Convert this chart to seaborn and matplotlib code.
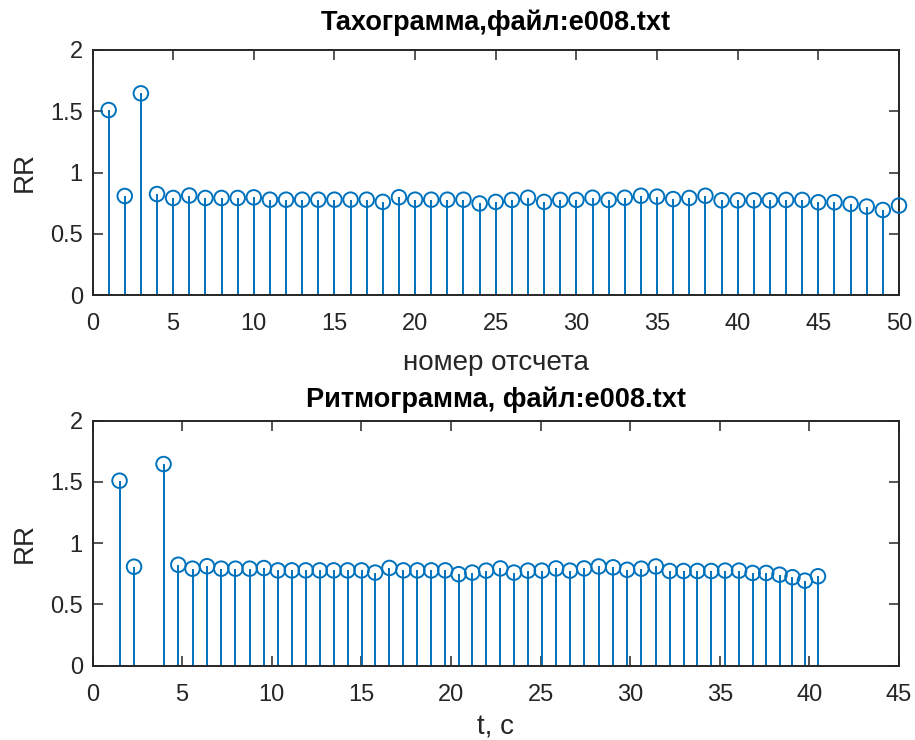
import numpy as np
import pandas as pd
import matplotlib
matplotlib.use("Agg")
import matplotlib.pyplot as plt
import seaborn as sns

# ---- data ----
sample_index = list(range(1, 51))
rr_values = [1.510, 0.808, 1.646, 0.824, 0.792, 0.812, 0.792, 0.792, 0.792, 0.797,
             0.778, 0.778, 0.778, 0.778, 0.778, 0.778, 0.778, 0.760, 0.798, 0.778,
             0.778, 0.778, 0.778, 0.747, 0.760, 0.776, 0.794, 0.760, 0.776, 0.776,
             0.794, 0.776, 0.794, 0.810, 0.803, 0.783, 0.792, 0.810, 0.773, 0.773,
             0.773, 0.773, 0.776, 0.776, 0.757, 0.757, 0.743, 0.722, 0.694, 0.730]
time_s = np.cumsum(rr_values)  # time axis = cumulative RR

top_title = "Тахограмма,файл:e008.txt"
bottom_title = "Ритмограмма, файл:e008.txt"
top_xlabel = "номер отсчета"
bottom_xlabel = "t, c"
ylabel = "RR"
top_xticks = list(range(0, 51, 5))
bottom_xticks = list(range(0, 46, 5))
yticks = [0, 0.5, 1, 1.5, 2]
ytick_labels = ["0", "0.5", "1", "1.5", "2"]

df_top = pd.DataFrame({"x": sample_index, "RR": rr_values})
df_bot = pd.DataFrame({"x": time_s, "RR": rr_values})

sns.set_theme(style="white")
plt.rcParams["font.family"] = ["Liberation Sans", "DejaVu Sans"]

COLOR = "#0072BD"
SPINE = "#262626"

fig = plt.figure(figsize=(9.15, 7.4), dpi=100)
ax1 = fig.add_axes([92.5 / 915, 1 - 295 / 740, (899 - 92.5) / 915, 245 / 740])
ax2 = fig.add_axes([92.5 / 915, 1 - 665.7 / 740, (899 - 92.5) / 915, 245 / 740])


def draw(ax, df, xlim, xticks, title, xlabel, tpad, xlpad):
    ax.vlines(df["x"], 0, df["RR"], color=COLOR, linewidth=1.4, zorder=2)
    sns.scatterplot(data=df, x="x", y="RR", ax=ax, marker="o", s=110,
                    facecolor="none", edgecolor=COLOR, linewidth=1.4, zorder=3,
                    legend=False, clip_on=False)
    ax.set_xlim(*xlim)
    ax.set_ylim(0, 2)
    ax.set_xticks(xticks)
    ax.set_xticklabels([str(t) for t in xticks])
    ax.set_yticks(yticks)
    ax.set_yticklabels(ytick_labels)
    ax.tick_params(direction="in", length=7, width=1.1, color=SPINE,
                   labelcolor=SPINE, labelsize=17, top=True, right=True,
                   bottom=True, left=True)
    ax.tick_params(axis="x", pad=13)
    ax.tick_params(axis="y", pad=7)
    for s in ax.spines.values():
        s.set_visible(True)
        s.set_color(SPINE)
        s.set_linewidth(1.4)
    ax.set_title(title, fontsize=19.5, fontweight="bold", color="black", pad=tpad)
    ax.set_xlabel(xlabel, fontsize=20, color=SPINE, labelpad=xlpad)
    ax.set_ylabel(ylabel, fontsize=20, color=SPINE, labelpad=9)
    ax.grid(False)


draw(ax1, df_top, (0, 50), top_xticks, top_title, top_xlabel, 14.4, 10.5)
draw(ax2, df_bot, (0, 45), bottom_xticks, bottom_title, bottom_xlabel, 10, 6)

fig.savefig("out.png", dpi=100, facecolor="white")
